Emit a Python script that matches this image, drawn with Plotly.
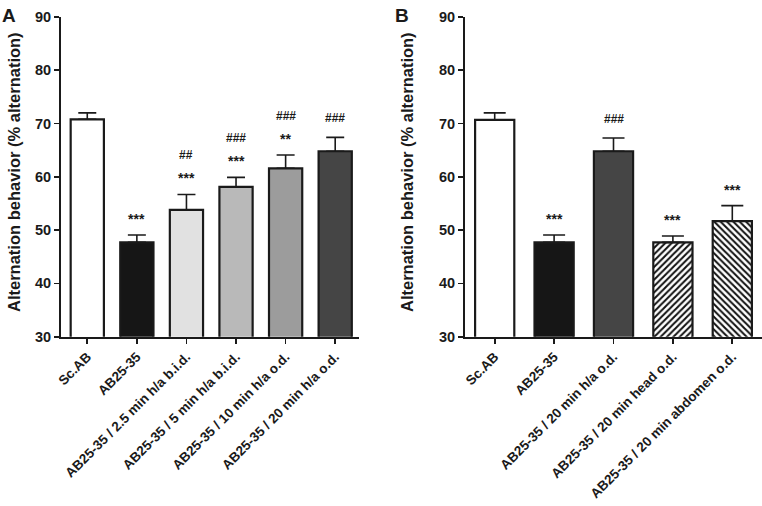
import plotly.graph_objects as go

# ---------------- data ----------------
cats_A = ["Sc.AB", "AB25-35", "AB25-35 / 2.5 min h/a b.i.d.", "AB25-35 / 5 min h/a b.i.d.",
          "AB25-35 / 10 min h/a o.d.", "AB25-35 / 20 min h/a o.d."]
vals_A = [70.8, 47.7, 53.8, 58.1, 61.6, 64.8]
err_A = [1.2, 1.4, 2.9, 1.8, 2.5, 2.6]
star_A = ["", "***", "***", "***", "**", ""]
hash_A = ["", "", "##", "###", "###", "###"]

cats_B = ["Sc.AB", "AB25-35", "AB25-35 / 20 min h/a o.d.", "AB25-35 / 20 min head o.d.",
          "AB25-35 / 20 min abdomen o.d."]
vals_B = [70.7, 47.7, 64.8, 47.7, 51.7]
err_B = [1.3, 1.4, 2.5, 1.2, 2.9]
star_B = ["", "***", "", "***", "***"]
hash_B = ["", "", "###", "", ""]

y_ticks = [30, 40, 50, 60, 70, 80, 90]

# ---------------- styles ----------------
colors_A = ["#ffffff", "#161616", "#e1e1e1", "#b9b9b9", "#9c9c9c", "#454545"]
colors_B = ["#ffffff", "#161616", "#454545", "#ffffff", "#ffffff"]
shapes_B = ["", "", "", "/", "\\"]
FONT = "Liberation Sans, Arial, Helvetica, sans-serif"
INK = "#1a1a1a"

W, H = 762, 506
def px_x(p):
    return p / W
def px_y(p):
    return 1 - p / H

fig = go.Figure()

for i in range(len(cats_A)):
    fig.add_trace(go.Bar(
        x=[i], y=[vals_A[i]], xaxis="x", yaxis="y", width=0.67,
        marker=dict(color=colors_A[i], line=dict(color=INK, width=2.2)),
        error_y=dict(type="data", symmetric=False, array=[err_A[i]], arrayminus=[0],
                     color=INK, thickness=1.6, width=9),
        showlegend=False, hoverinfo="skip",
    ))

for i in range(len(cats_B)):
    marker = dict(color=colors_B[i], line=dict(color=INK, width=2.2))
    if shapes_B[i]:
        marker["pattern"] = dict(shape=shapes_B[i], fgcolor="#111111", bgcolor="#ffffff",
                                 size=4.5, solidity=0.45, fillmode="replace")
    fig.add_trace(go.Bar(
        x=[i], y=[vals_B[i]], xaxis="x2", yaxis="y2", width=0.66,
        marker=marker,
        error_y=dict(type="data", symmetric=False, array=[err_B[i]], arrayminus=[0],
                     color=INK, thickness=1.6, width=11),
        showlegend=False, hoverinfo="skip",
    ))

# significance marks
annos = []
def add_marks(vals, errs, stars, hashes, xref, yref):
    for i, (v, e, s, h) in enumerate(zip(vals, errs, stars, hashes)):
        top = v + e
        level = 0
        if s:
            annos.append(dict(x=i, y=top, xref=xref, yref=yref, text=f"<b>{s}</b>", showarrow=False,
                              yanchor="middle", yshift=16,
                              font=dict(family=FONT, size=14, color=INK)))
            level = 1
        if h:
            annos.append(dict(x=i, y=top, xref=xref, yref=yref, text=f"<b>{h}</b>", showarrow=False,
                              yanchor="middle", yshift=19 + 20 * level,
                              font=dict(family=FONT, size=12, color=INK)))

add_marks(vals_A, err_A, star_A, hash_A, "x", "y")
add_marks(vals_B, err_B, star_B, hash_B, "x2", "y2")

ytitle = "Alternation behavior (% alternation)"
for xp, letter in [(0, "A"), (393, "B")]:
    annos.append(dict(x=px_x(xp), y=px_y(3), xref="paper", yref="paper", text=f"<b>{letter}</b>",
                      showarrow=False, xanchor="left", yanchor="top",
                      font=dict(family=FONT, size=19, color=INK)))
for xp in [14, 407]:
    annos.append(dict(x=px_x(xp), y=px_y(172), xref="paper", yref="paper", text=f"<b>{ytitle}</b>",
                      showarrow=False, textangle=-90, xanchor="center", yanchor="middle",
                      font=dict(family=FONT, size=16.5, color=INK)))

axis_common = dict(showgrid=False, zeroline=False, showline=True, linecolor=INK, linewidth=2,
                   ticks="outside", ticklen=5, tickwidth=1.6, tickcolor=INK, automargin=False)

fig.update_layout(
    template="none",
    width=W, height=H, autosize=False,
    margin=dict(l=0, r=0, t=0, b=0, pad=0, autoexpand=False),
    paper_bgcolor="white", plot_bgcolor="white",
    font=dict(family=FONT, color=INK),
    barmode="overlay",
    hovermode=False,
    xaxis=dict(domain=[px_x(61), px_x(359)], anchor="y", range=[-0.53, 5.48],
               tickvals=list(range(len(cats_A))), ticktext=[f"<b>{c}</b>" for c in cats_A],
               tickangle=-45, tickfont=dict(size=13.5), **axis_common),
    yaxis=dict(domain=[px_y(336.7), px_y(17)], anchor="x", range=[30, 90],
               tickvals=y_ticks, ticktext=[f"<b>{t}</b>" for t in y_ticks],
               tickfont=dict(size=14.5), **axis_common),
    xaxis2=dict(domain=[px_x(465), px_x(762)], anchor="y2", range=[-0.5, 4.5],
                tickvals=list(range(len(cats_B))), ticktext=[f"<b>{c}</b>" for c in cats_B],
                tickangle=-45, tickfont=dict(size=13.5), **axis_common),
    yaxis2=dict(domain=[px_y(336.7), px_y(17)], anchor="x2", range=[30, 90],
                tickvals=y_ticks, ticktext=[f"<b>{t}</b>" for t in y_ticks],
                tickfont=dict(size=14.5), **axis_common),
    annotations=annos,
)

fig.write_html("out.html", config={"displayModeBar": False, "staticPlot": True},
               post_script="document.body.style.margin='0px';")
